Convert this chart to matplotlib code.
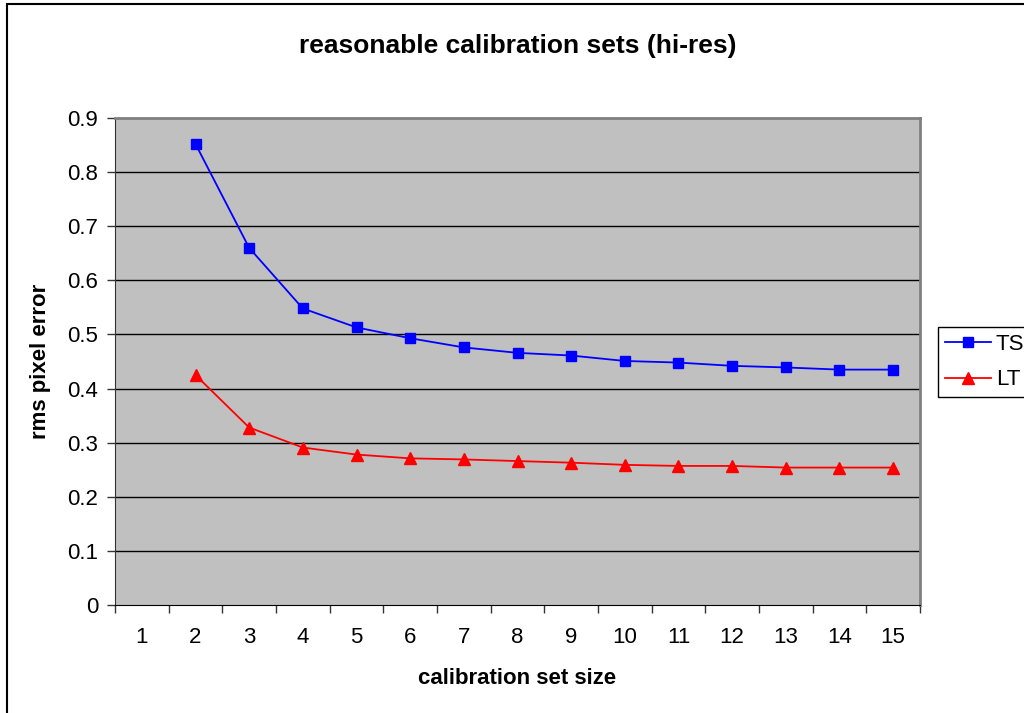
import matplotlib.pyplot as plt
import matplotlib as mpl
from matplotlib.patches import Rectangle
from matplotlib.ticker import MultipleLocator, FixedLocator

# data
set_sizes = [2, 3, 4, 5, 6, 7, 8, 9, 10, 11, 12, 13, 14, 15]
ts_error = [0.852, 0.660, 0.548, 0.513, 0.493, 0.476, 0.466, 0.461, 0.451, 0.448, 0.442, 0.439, 0.435, 0.435]
lt_error = [0.425, 0.328, 0.291, 0.278, 0.271, 0.269, 0.266, 0.263, 0.259, 0.257, 0.257, 0.254, 0.254, 0.254]
categories = list(range(1, 16))

if __name__ == "__main__":
    mpl.rcParams['font.family'] = ['Liberation Sans', 'DejaVu Sans']
    mpl.rcParams['font.size'] = 16

    fig = plt.figure(figsize=(10.24, 7.13), dpi=100)
    ax = fig.add_axes([115 / 1024, 1 - 605 / 713, (920 - 115) / 1024, (605 - 118) / 713])
    ax.set_facecolor('#c0c0c0')

    ax.plot(set_sizes, ts_error, color='#0000ff', marker='s', markersize=7.5, lw=1.3, label='TS', clip_on=False, zorder=3)
    ax.plot(set_sizes, lt_error, color='#ff0000', marker='^', markersize=9, lw=1.3, label='LT', clip_on=False, zorder=3)

    ax.set_xlim(0.5, 15.5)
    ax.set_ylim(0, 0.9)
    ax.yaxis.set_major_locator(MultipleLocator(0.1))
    ax.yaxis.set_major_formatter(lambda v, pos: '0' if abs(v) < 1e-9 else f'{v:.1f}')
    ax.set_xticks(categories)
    ax.set_xticklabels([str(c) for c in categories])
    ax.xaxis.set_minor_locator(FixedLocator([c + 0.5 for c in range(0, 16)]))
    ax.tick_params(axis='x', which='major', length=0, pad=16, labelsize=16)
    ax.tick_params(axis='x', which='minor', length=6, width=1, color='#333333', direction='out')
    ax.tick_params(axis='y', length=6, width=1, color='#333333', direction='out', pad=6, labelsize=16)

    for v in [0.1 * i for i in range(1, 9)]:
        ax.axhline(v, color='black', lw=1, zorder=1)

    ax.spines['top'].set_color('#808080')
    ax.spines['top'].set_linewidth(2)
    ax.spines['right'].set_color('#808080')
    ax.spines['right'].set_linewidth(2)
    ax.spines['left'].set_color('#333333')
    ax.spines['bottom'].set_color('#000000')

    ax.set_xlabel('calibration set size', fontweight='bold', fontsize=16, labelpad=14)
    ax.set_ylabel('rms pixel error', fontweight='bold', fontsize=16, labelpad=12)
    fig.text(0.5 * (115 + 920) / 1024, 1 - 46 / 713, 'reasonable calibration sets (hi-res)',
             ha='center', va='center', fontweight='bold', fontsize=19)

    leg = fig.legend(loc='upper left', bbox_to_anchor=(938 / 1024, 1 - 327 / 713),
                     bbox_transform=fig.transFigure, frameon=True, fancybox=False,
                     edgecolor='black', framealpha=1, fontsize=16, borderaxespad=0,
                     handlelength=2.1, labelspacing=0.66, borderpad=0.3, handletextpad=0.2)
    leg.get_frame().set_linewidth(1)

    # outer chart-area border
    fig.patches.append(Rectangle((7 / 1024, -0.02), 1.2, (713 - 4) / 713 + 0.02,
                                 transform=fig.transFigure, fill=False,
                                 edgecolor='black', lw=1.5, clip_on=False))

    fig.savefig('out.png', dpi=100)
